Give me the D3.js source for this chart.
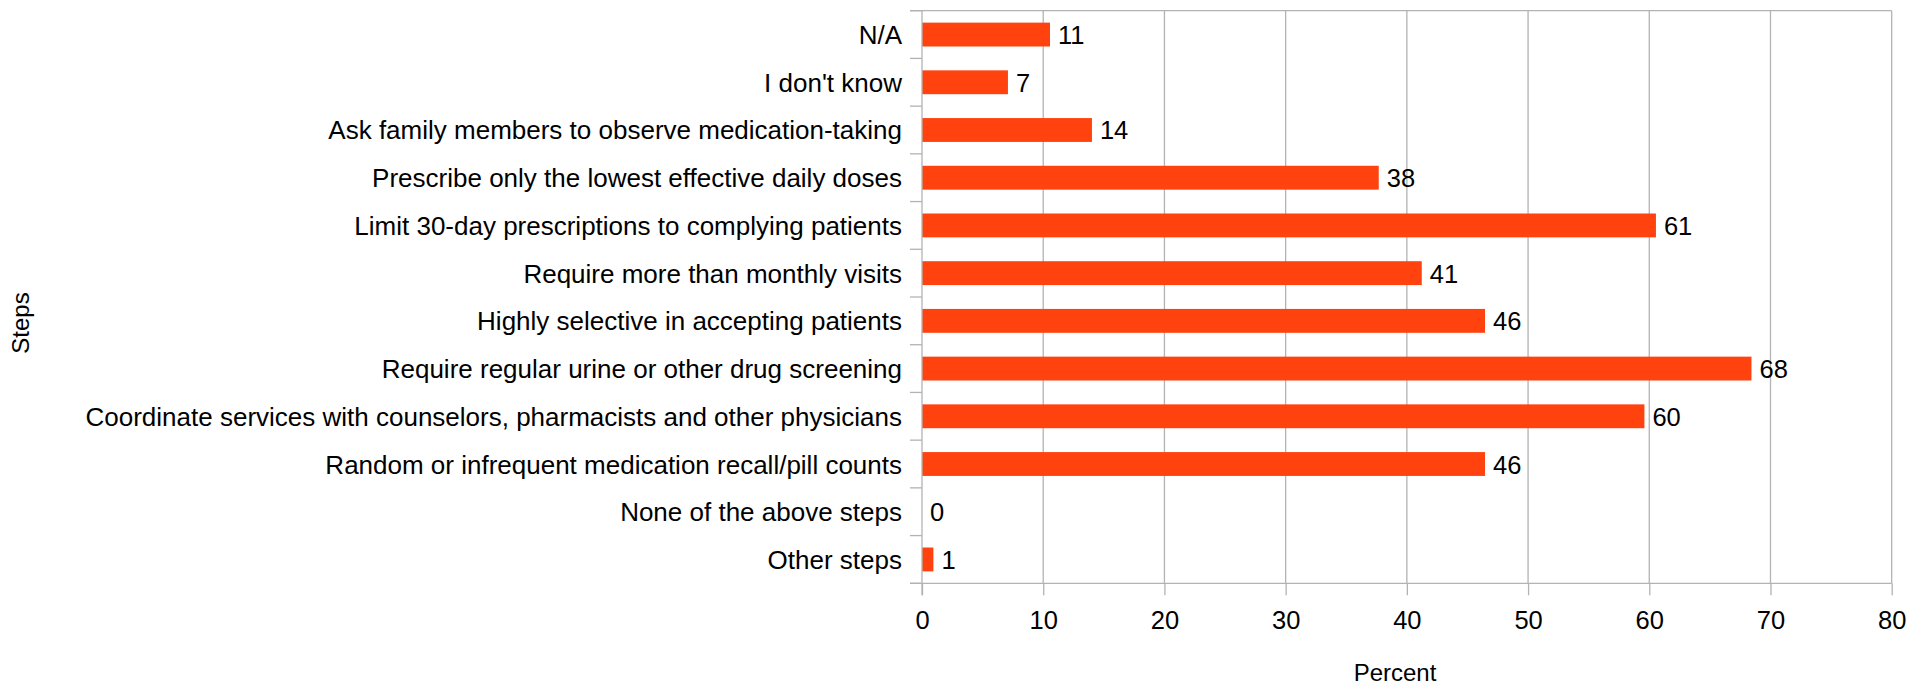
<!DOCTYPE html>
<html>
<head>
<meta charset="utf-8">
<script src="https://cdn.jsdelivr.net/npm/d3@7"></script>
<style>
html,body{margin:0;padding:0;background:#fff;}
svg{display:block;}
text{font-family:"Liberation Sans",Arial,sans-serif;fill:#000;}
</style>
</head>
<body>
<svg id="chart" width="1923" height="685"></svg>
<script>
const categories = [
  "N/A",
  "I don't know",
  "Ask family members to observe medication-taking",
  "Prescribe only the lowest effective daily doses",
  "Limit 30-day prescriptions to complying patients",
  "Require more than monthly visits",
  "Highly selective in accepting patients",
  "Require regular urine or other drug screening",
  "Coordinate services with counselors, pharmacists and other physicians",
  "Random or infrequent medication recall/pill counts",
  "None of the above steps",
  "Other steps"
];
const values = [10.56, 7.09, 14.02, 37.68, 60.55, 41.23, 46.45, 68.43, 59.6, 46.45, 0, 0.94];
const xTicks = [0, 10, 20, 30, 40, 50, 60, 70, 80];
const xTitle = "Percent";
const yTitle = "Steps";

(function () {
const svg = d3.select("#chart");
const pL = 922, pR = 1891.7, pT = 10.7, pB = 583.3;
const barColor = "#ff420e", gridColor = "#b3b3b3";

const x = d3.scaleLinear().domain([0, 80]).range([pL, pR]);
const y = d3.scaleBand().domain(categories).range([pT, pB]).paddingInner(0.5).paddingOuter(0.25);

// gridlines
svg.append("g").selectAll("line").data(xTicks.slice(1)).join("line")
  .attr("x1", d => x(d)).attr("x2", d => x(d))
  .attr("y1", pT).attr("y2", pB)
  .attr("stroke", gridColor).attr("stroke-width", 1.3);

// top border
svg.append("line").attr("x1", pL - 12).attr("x2", pR).attr("y1", pT).attr("y2", pT)
  .attr("stroke", gridColor).attr("stroke-width", 1.3);

// bars
svg.append("g").selectAll("rect").data(categories).join("rect")
  .attr("x", x(0))
  .attr("y", d => y(d))
  .attr("width", (d, i) => x(values[i]) - x(0))
  .attr("height", y.bandwidth())
  .attr("fill", barColor);

// value labels
svg.append("g").selectAll("text").data(categories).join("text")
  .attr("x", (d, i) => x(values[i]) + 8)
  .attr("y", d => y(d) + y.bandwidth() / 2 + 9.5)
  .attr("font-size", 25.5)
  .text((d, i) => Math.round(values[i]));

// bottom axis
const xAxis = d3.axisBottom(x).tickValues(xTicks).tickSize(12).tickPadding(10).tickFormat(d3.format("d"));
const gx = svg.append("g").attr("transform", `translate(0,${pB})`).call(xAxis);
gx.select(".domain").remove();
gx.selectAll(".tick line").attr("stroke", gridColor).attr("stroke-width", 1.3);
gx.selectAll(".tick text").attr("font-size", 25.5).attr("font-family", "Liberation Sans, Arial, sans-serif")
  .attr("fill", "#000").attr("dy", null).attr("y", 46);
svg.append("line").attr("x1", pL - 12).attr("x2", pR).attr("y1", pB).attr("y2", pB)
  .attr("stroke", gridColor).attr("stroke-width", 1.3);

// left axis
svg.append("line").attr("x1", pL).attr("x2", pL).attr("y1", pT).attr("y2", pB + 12)
  .attr("stroke", gridColor).attr("stroke-width", 1.3);
const boundaries = d3.range(categories.length + 1).map(i => pT + i * y.step());
svg.append("g").selectAll("line").data(boundaries).join("line")
  .attr("x1", pL - 12).attr("x2", pL).attr("y1", d => d).attr("y2", d => d)
  .attr("stroke", gridColor).attr("stroke-width", 1.3);
svg.append("g").selectAll("text").data(categories).join("text")
  .attr("x", 902)
  .attr("y", d => y(d) + y.bandwidth() / 2 + 9.5)
  .attr("text-anchor", "end")
  .attr("font-size", 26)
  .text(d => d);

// titles
svg.append("text").attr("x", 1395).attr("y", 681).attr("text-anchor", "middle")
  .attr("font-size", 24).text(xTitle);
svg.append("text").attr("transform", "translate(29,323) rotate(-90)").attr("text-anchor", "middle")
  .attr("font-size", 24).text(yTitle);
})();
</script>
</body>
</html>
